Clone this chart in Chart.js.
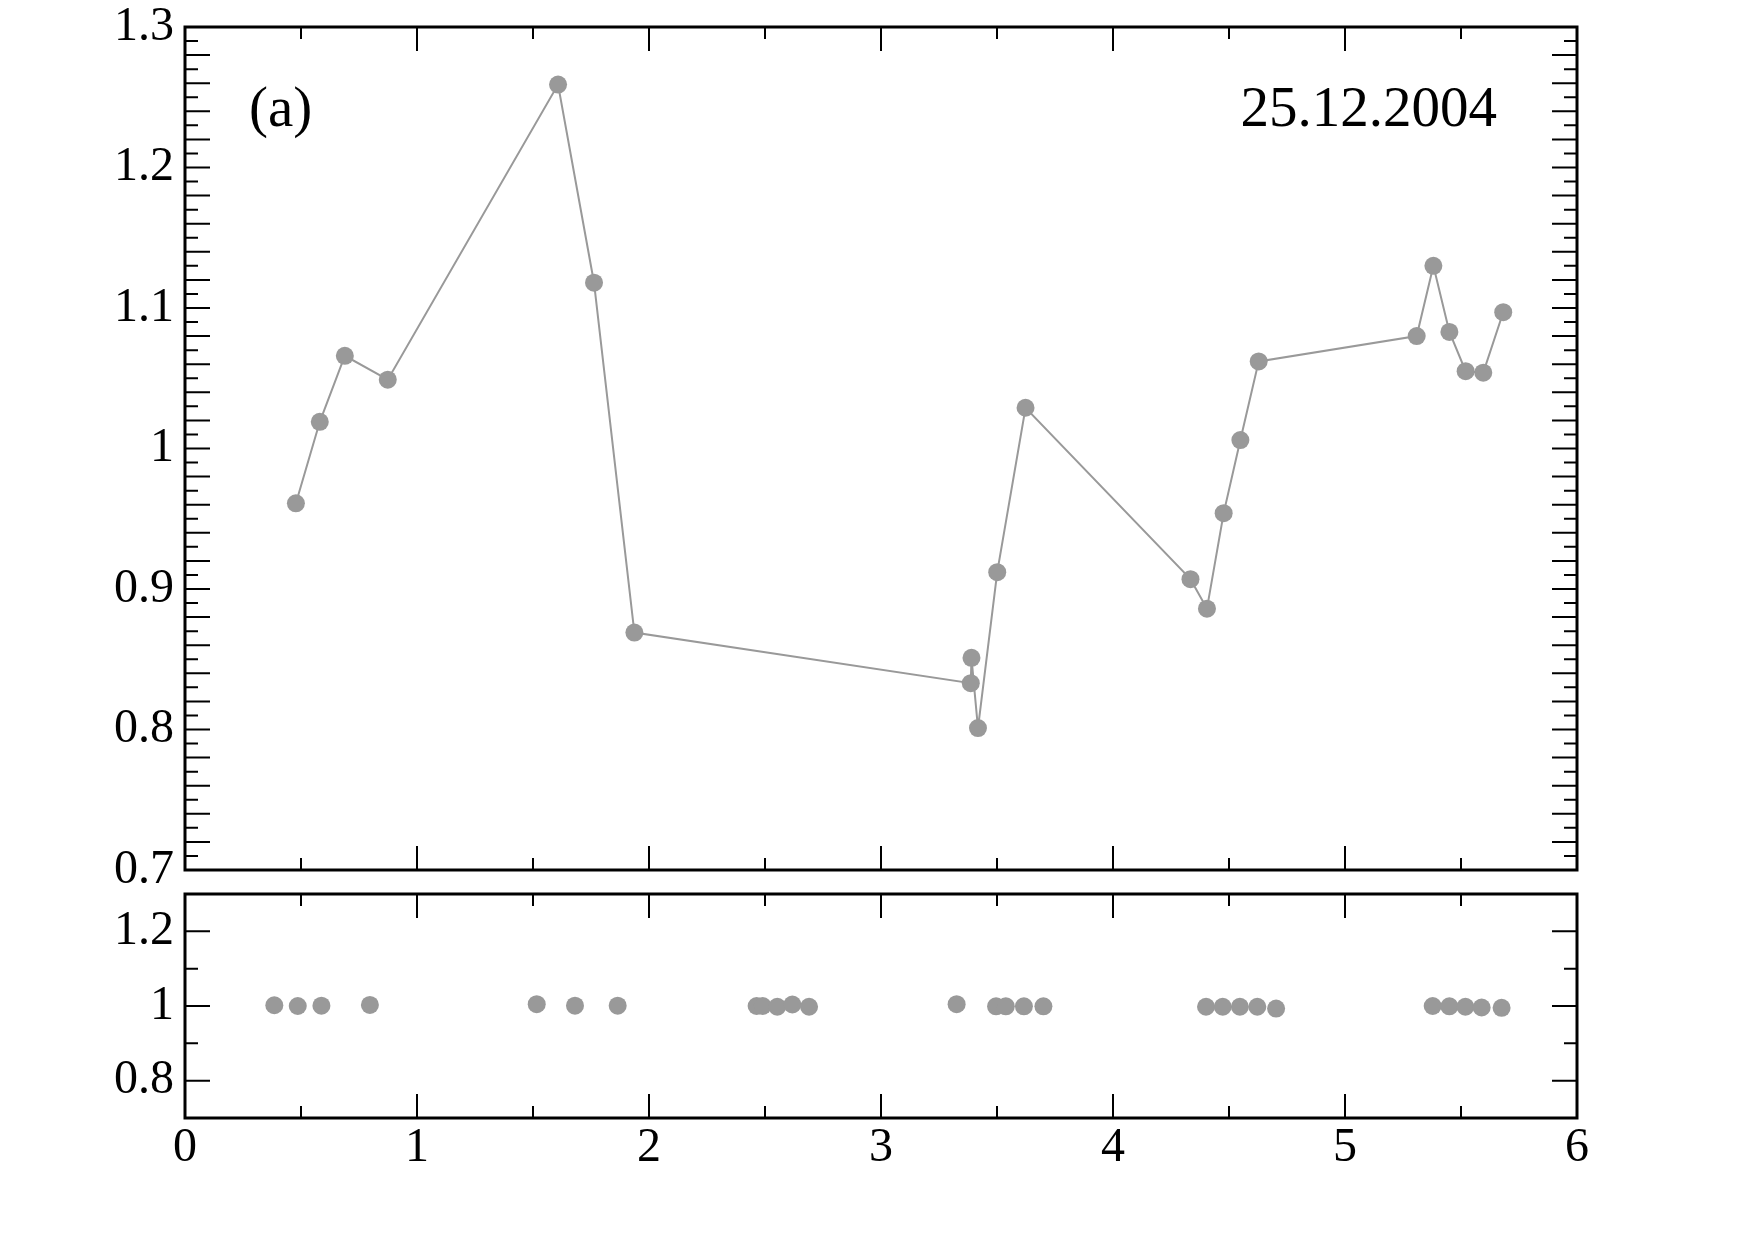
<!DOCTYPE html>
<html>
<head>
<meta charset="utf-8">
<title>25.12.2004</title>
<script src="https://cdn.jsdelivr.net/npm/chart.js@4/dist/chart.umd.min.js"></script>
<style>
  html, body { margin: 0; padding: 0; background: #fff; }
  #wrap { position: relative; width: 1756px; height: 1242px; overflow: hidden; background: #fff; }
  canvas { position: absolute; left: 0; }
  #top-chart { top: 0; }
  #bottom-chart { top: 880px; }
</style>
</head>
<body>
<div id="wrap">
  <canvas id="top-chart" width="1756" height="900"></canvas>
  <canvas id="bottom-chart" width="1756" height="362"></canvas>
</div>
<script>
// tick labels
const xTicks = [0, 1, 2, 3, 4, 5, 6];
const topYTicks = [0.7, 0.8, 0.9, 1, 1.1, 1.2, 1.3];
const bottomYTicks = [0.8, 1, 1.2];

// upper panel (connected points)
const topX = [0.478, 0.581, 0.689, 0.874, 1.608, 1.763, 1.937, 3.387, 3.390, 3.418, 3.501, 3.623,
  4.334, 4.405, 4.477, 4.549, 4.628, 5.309, 5.381, 5.450, 5.520, 5.596, 5.682];
const topY = [0.961, 1.019, 1.066, 1.049, 1.259, 1.118, 0.869, 0.833, 0.851, 0.801, 0.912, 1.029,
  0.907, 0.886, 0.954, 1.006, 1.062, 1.080, 1.130, 1.083, 1.055, 1.054, 1.097];

// lower panel (points only)
const bottomX = [0.385, 0.486, 0.588, 0.797, 1.516, 1.681, 1.865, 2.464, 2.490, 2.553, 2.618, 2.690,
  3.326, 3.496, 3.538, 3.616, 3.700, 4.401, 4.473, 4.547, 4.622, 4.703, 5.378, 5.450, 5.519, 5.589, 5.675];
const bottomY = [1.002, 1.000, 1.001, 1.003, 1.005, 1.001, 1.001, 1.000, 1.000, 0.998, 1.004, 0.998,
  1.005, 0.999, 0.999, 0.999, 0.999, 0.998, 0.998, 0.998, 0.998, 0.993, 1.000, 0.999, 0.998, 0.996, 0.995];

const panelLabel = '(a)';
const dateLabel = '25.12.2004';

const FONT = '"Liberation Serif", "Times New Roman", serif';
const GREY = '#999999';

function isMultiple(v, step) {
  const q = v / step;
  return Math.abs(q - Math.round(q)) < 1e-6;
}

function fmt(v) {
  return String(Number(v.toFixed(1)));
}

// box around the plot + inward ticks on all four sides
const frameTicks = {
  id: 'frameTicks',
  afterDraw(chart, args, opts) {
    const { ctx, chartArea: a } = chart;
    const x = chart.scales.x;
    const y = chart.scales.y;
    ctx.save();
    ctx.strokeStyle = '#000';

    ctx.lineWidth = 2;
    ctx.beginPath();
    for (let i = 0; ; i++) {
      const v = x.min + i * opts.xStep;
      if (v > x.max + 1e-9) break;
      const px = x.getPixelForValue(v);
      const len = isMultiple(v, opts.xLong) ? 24 : 12;
      ctx.moveTo(px, a.top);
      ctx.lineTo(px, a.top + len);
      ctx.moveTo(px, a.bottom);
      ctx.lineTo(px, a.bottom - len);
    }
    for (let i = 0; ; i++) {
      const v = y.min + i * opts.yStep;
      if (v > y.max + 1e-9) break;
      const py = y.getPixelForValue(v);
      const len = isMultiple(v, opts.yLong) ? 25 : 13;
      ctx.moveTo(a.left, py);
      ctx.lineTo(a.left + len, py);
      ctx.moveTo(a.right, py);
      ctx.lineTo(a.right - len, py);
    }
    ctx.stroke();

    ctx.lineWidth = 3;
    ctx.strokeRect(a.left, a.top, a.right - a.left, a.bottom - a.top);
    ctx.restore();
  }
};

const annotations = {
  id: 'annotations',
  afterDraw(chart) {
    const { ctx, chartArea: a } = chart;
    ctx.save();
    ctx.fillStyle = '#000';
    ctx.font = '57px ' + FONT;
    ctx.textBaseline = 'alphabetic';
    ctx.textAlign = 'left';
    ctx.fillText(panelLabel, a.left + 64, a.top + 99);
    ctx.textAlign = 'right';
    ctx.fillText(dateLabel, a.right - 80, a.top + 99);
    ctx.restore();
  }
};

function toPoints(xs, ys) {
  return xs.map((v, i) => ({ x: v, y: ys[i] }));
}

function yScale(labels) {
  return {
    type: 'linear',
    min: 0.7,
    max: 1.3,
    grid: { display: false, drawTicks: false },
    border: { display: false },
    afterBuildTicks(scale) {
      scale.ticks = labels.map(v => ({ value: v }));
    },
    afterFit(scale) {
      // fixed axis width, and no extra room for the end labels
      scale.width = 185;
      scale.paddingTop = 0;
      scale.paddingBottom = 0;
    },
    ticks: {
      autoSkip: false,
      padding: 11,
      color: '#000',
      font: { family: FONT, size: 48 },
      callback: v => fmt(v),
    },
  };
}

const common = {
  responsive: false,
  animation: false,
  devicePixelRatio: 1,
  events: [],
  plugins: { legend: { display: false }, tooltip: { enabled: false } },
};

new Chart(document.getElementById('top-chart'), {
  type: 'scatter',
  data: {
    datasets: [{
      data: toPoints(topX, topY),
      showLine: true,
      borderColor: GREY,
      borderWidth: 2,
      backgroundColor: GREY,
      pointRadius: 9,
      pointBorderWidth: 0,
      pointBackgroundColor: GREY,
    }],
  },
  options: {
    ...common,
    layout: { padding: { top: 27, right: 179, bottom: 30, left: 0 } },
    plugins: {
      ...common.plugins,
      frameTicks: { xStep: 0.5, xLong: 1, yStep: 0.01, yLong: 0.02 },
    },
    scales: {
      x: { type: 'linear', min: 0, max: 6, display: false },
      y: yScale(topYTicks),
    },
  },
  plugins: [frameTicks, annotations],
});

new Chart(document.getElementById('bottom-chart'), {
  type: 'scatter',
  data: {
    datasets: [{
      data: toPoints(bottomX, bottomY),
      showLine: false,
      backgroundColor: GREY,
      pointRadius: 9,
      pointBorderWidth: 0,
      pointBackgroundColor: GREY,
    }],
  },
  options: {
    ...common,
    layout: { padding: { top: 14, right: 179, bottom: 0, left: 0 } },
    plugins: {
      ...common.plugins,
      frameTicks: { xStep: 0.5, xLong: 1, yStep: 0.1, yLong: 0.2 },
    },
    scales: {
      x: {
        type: 'linear',
        min: 0,
        max: 6,
        grid: { display: false, drawTicks: false },
        border: { display: false },
        afterBuildTicks(scale) {
          scale.ticks = xTicks.map(v => ({ value: v }));
        },
        afterFit(scale) {
          scale.height = 124;
        },
        ticks: {
          autoSkip: false,
          maxRotation: 0,
          padding: 2,
          color: '#000',
          font: { family: FONT, size: 48 },
          callback: v => String(v),
        },
      },
      y: yScale(bottomYTicks),
    },
  },
  plugins: [frameTicks],
});
</script>
</body>
</html>
